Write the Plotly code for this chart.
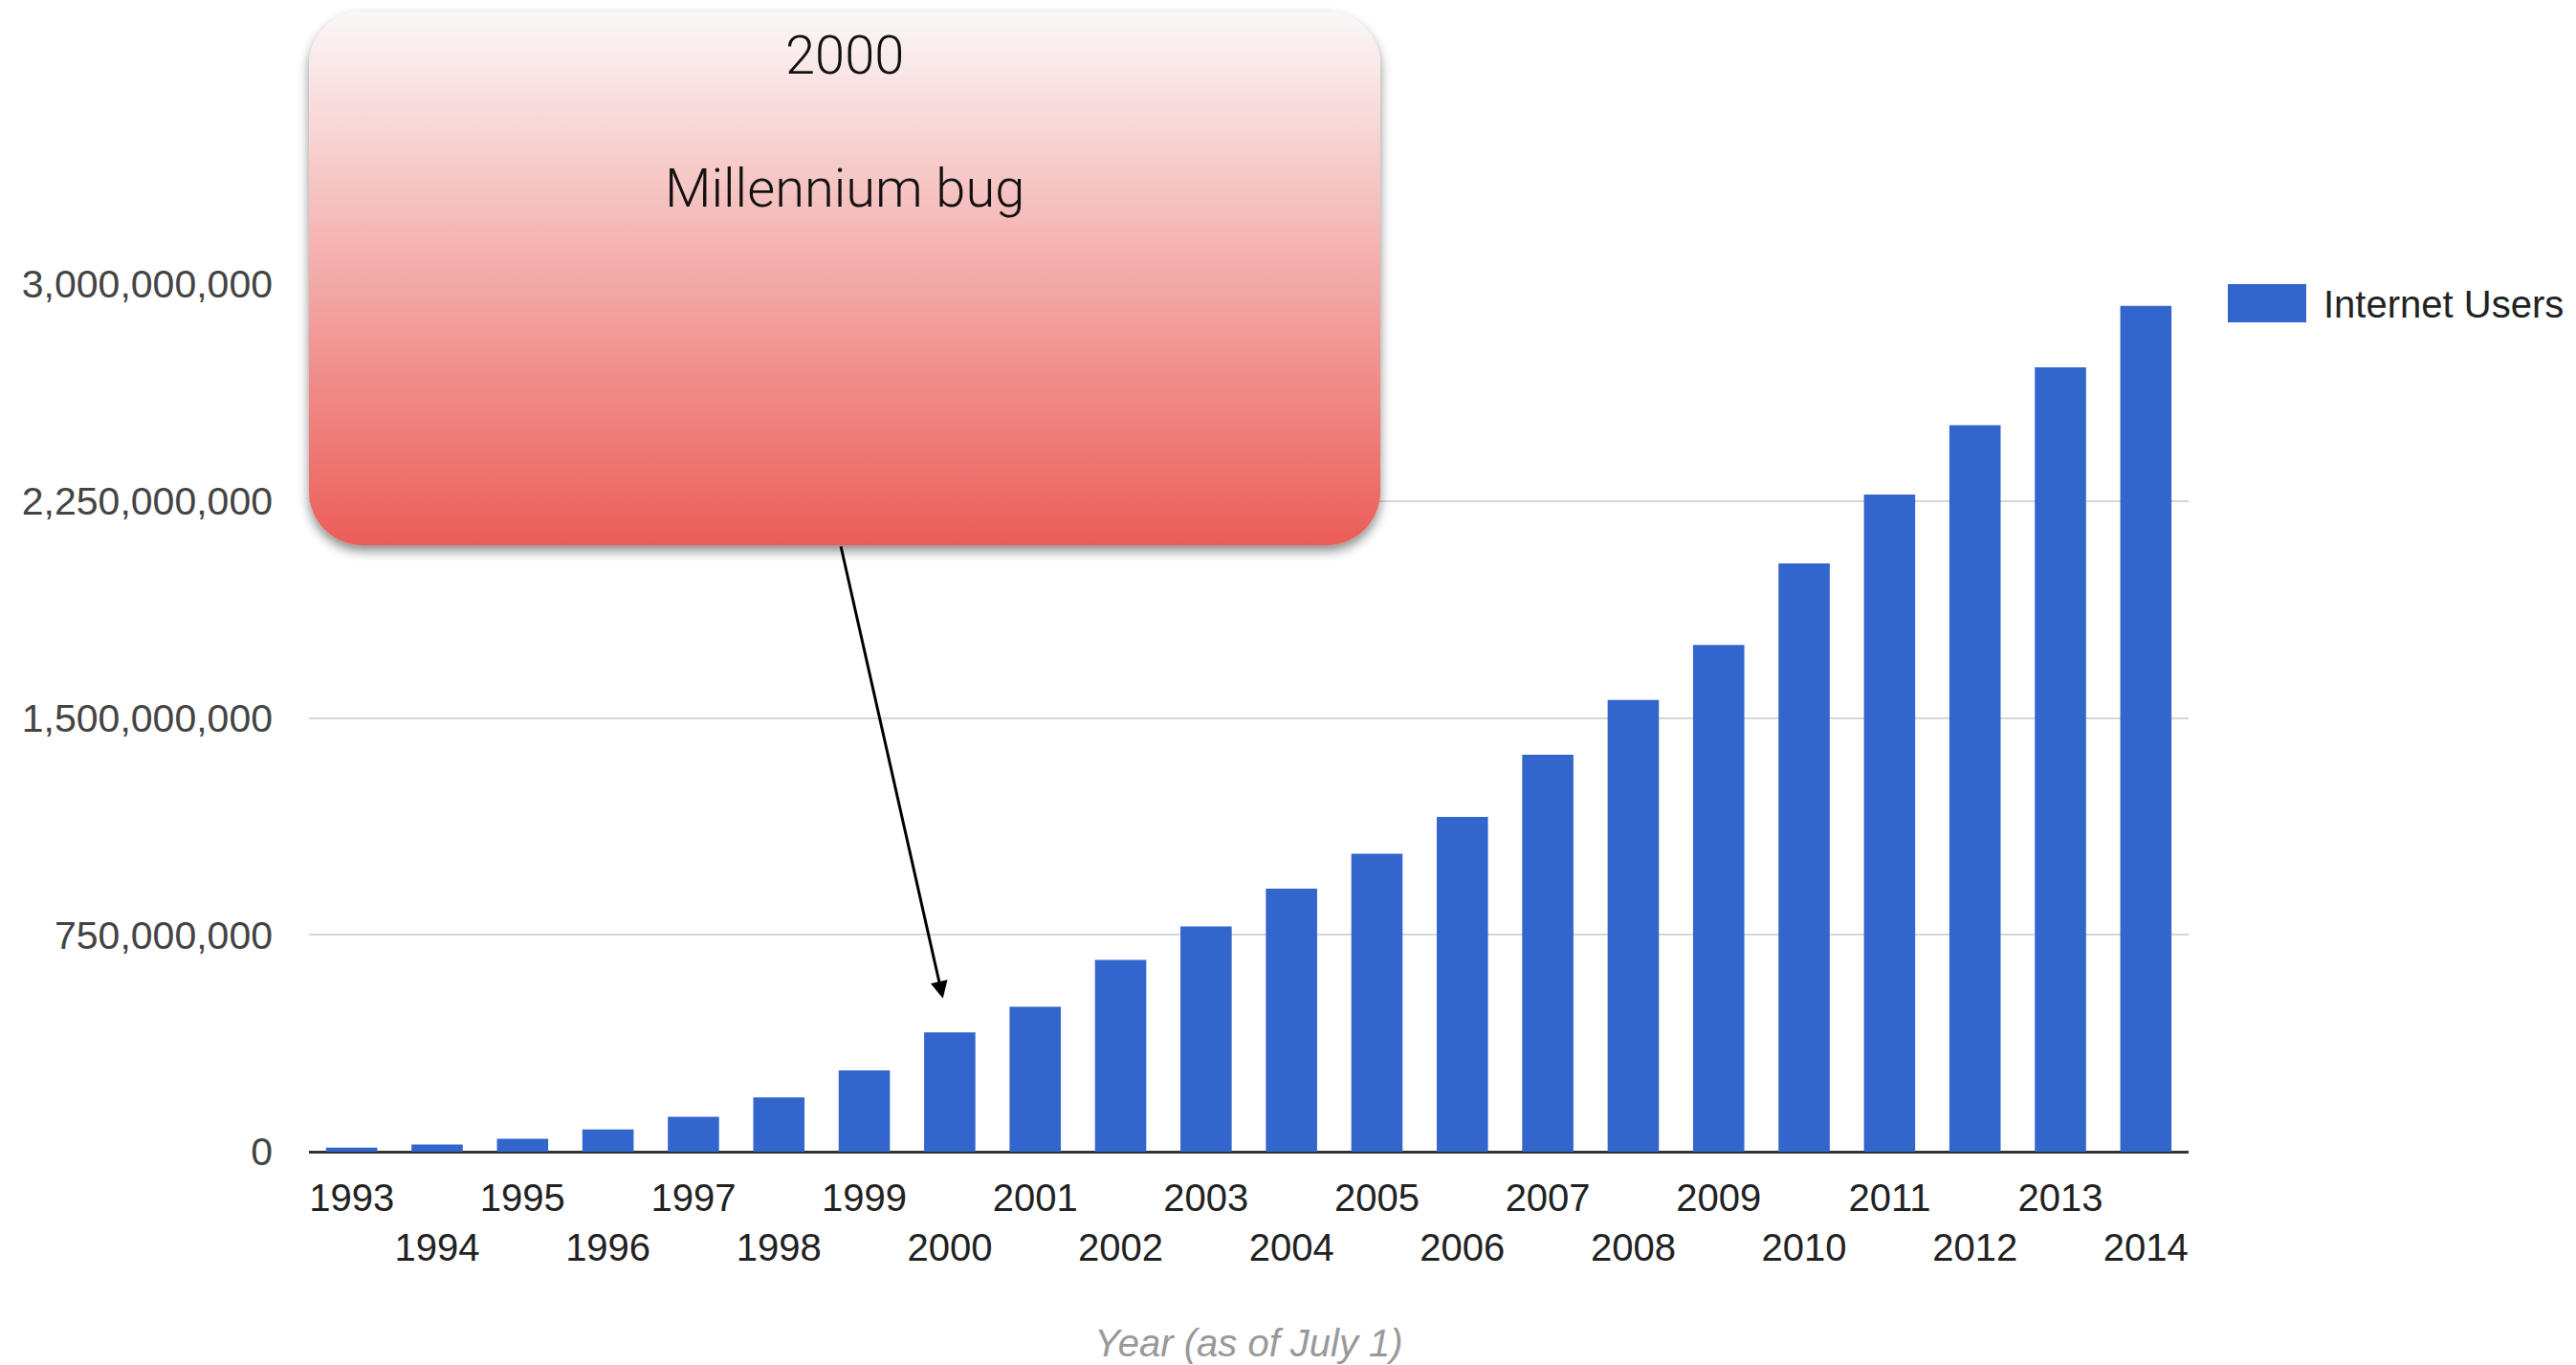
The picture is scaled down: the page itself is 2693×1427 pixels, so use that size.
import base64
import plotly.graph_objects as go

# ---------------- data ----------------
years = ["1993", "1994", "1995", "1996", "1997", "1998", "1999", "2000",
         "2001", "2002", "2003", "2004", "2005", "2006", "2007", "2008",
         "2009", "2010", "2011", "2012", "2013", "2014"]
internet_users = [14_000_000, 25_000_000, 45_000_000, 77_000_000, 121_000_000,
                  188_000_000, 281_000_000, 413_000_000, 501_000_000, 663_000_000,
                  779_000_000, 910_000_000, 1_030_000_000, 1_158_000_000,
                  1_373_000_000, 1_562_000_000, 1_752_000_000, 2_034_000_000,
                  2_272_000_000, 2_512_000_000, 2_712_000_000, 2_925_000_000]
y_tick_values = [0, 750_000_000, 1_500_000_000, 2_250_000_000, 3_000_000_000]
y_tick_labels = ["0", "750,000,000", "1,500,000,000", "2,250,000,000", "3,000,000,000"]
series_name = "Internet Users"
x_title = "Year (as of July 1)"
callout_year = "2000"
callout_text = "Millennium bug"
callout_value = 530_000_000

# ---------------- layout geometry (pixels) ----------------
W, H = 2693, 1427
L, R, T, B = 323, 405, 297, 223
PW, PH = W - L - R, H - T - B
BASE = H - B


def xp(px):
    return (px - L) / PW


def yp(py):
    return (BASE - py) / PH


# staggered tick labels: every second label on a second line
x_tick_text = [y if i % 2 == 0 else "<br>" + y for i, y in enumerate(years)]

fig = go.Figure()
fig.add_trace(go.Bar(
    x=years, y=internet_users, name=series_name,
    marker=dict(color="#3366cc", line=dict(width=0)),
    showlegend=False,
))

# callout box as svg (gradient + rounded corners + shadow)
bx0, by0, bx1, by1 = 323, 12, 1443, 570
pad = 24
bw, bh = bx1 - bx0, by1 - by0
sw, sh = bw + 2 * pad, bh + 2 * pad
svg = f'''<svg xmlns="http://www.w3.org/2000/svg" width="{sw}" height="{sh}" viewBox="0 0 {sw} {sh}">
<defs>
<linearGradient id="g" x1="0" y1="0" x2="0" y2="1">
<stop offset="0" stop-color="#fbf8f8"/>
<stop offset="0.5" stop-color="#f3aaa8"/>
<stop offset="1" stop-color="#eb5d58"/>
</linearGradient>
<filter id="s" x="-5%" y="-5%" width="110%" height="115%">
<feDropShadow dx="0" dy="6" stdDeviation="6" flood-color="#000000" flood-opacity="0.45"/>
</filter>
</defs>
<rect x="{pad}" y="{pad}" width="{bw}" height="{bh}" rx="56" ry="56" fill="url(#g)" filter="url(#s)"/>
</svg>'''
src = "data:image/svg+xml;base64," + base64.b64encode(svg.encode()).decode()
fig.add_layout_image(dict(
    source=src, xref="paper", yref="paper",
    x=xp(bx0 - pad), y=yp(by0 - pad), sizex=sw / PW, sizey=sh / PH,
    xanchor="left", yanchor="top", sizing="stretch", layer="above",
))

box_font = dict(family="Roboto, Liberation Sans, Arial", size=56, color="#111111", weight=300)
fig.add_annotation(text=callout_year, xref="paper", yref="paper", x=xp(883), y=yp(58),
                   showarrow=False, xanchor="center", yanchor="middle", font=box_font)
fig.add_annotation(text=callout_text, xref="paper", yref="paper", x=xp(883), y=yp(197),
                   showarrow=False, xanchor="center", yanchor="middle", font=box_font)

# arrow from callout to the 2000 bar (category index position)
fig.add_annotation(text="", x=years.index(callout_year) - 0.08, y=callout_value, xref="x", yref="y",
                   ax=-107, ay=-474, showarrow=True, arrowhead=2, arrowsize=1.2,
                   arrowwidth=3, arrowcolor="#000000", standoff=0)

# custom legend
fig.add_shape(type="rect", xref="paper", yref="paper",
              x0=xp(2329), x1=xp(2411), y0=yp(337), y1=yp(297),
              fillcolor="#3366cc", line=dict(width=0))
fig.add_annotation(text=series_name, xref="paper", yref="paper", x=xp(2427), y=yp(318),
                   showarrow=False, xanchor="left", yanchor="middle",
                   font=dict(family="Liberation Sans, Arial", size=40, color="#222222"))

fig.update_layout(
    width=W, height=H,
    margin=dict(l=L, r=R, t=T, b=B, pad=0),
    paper_bgcolor="white", plot_bgcolor="white",
    bargap=0.4,
    font=dict(family="Liberation Sans, Arial", size=40, color="#222222"),
    xaxis=dict(
        type="category", tickmode="array", tickvals=years, ticktext=x_tick_text,
        range=[-0.5, len(years) - 0.5], autorange=False, tickangle=0,
        showgrid=False, showline=False, ticks="", zeroline=False,
        tickfont=dict(size=40, color="#222222"), ticklabelstandoff=21,
        title=dict(text=x_title, font=dict(size=40, color="#999999", style="italic"), standoff=64),
        automargin=False,
    ),
    yaxis=dict(
        range=[0, 3_000_000_000], autorange=False, tickmode="array",
        tickvals=y_tick_values, ticktext=y_tick_labels,
        showgrid=True, gridcolor="#d6d6d6", gridwidth=2,
        zeroline=True, zerolinecolor="#333333", zerolinewidth=3,
        showline=False, ticks="", tickfont=dict(size=41, color="#444444"),
        ticklabelstandoff=37, automargin=False,
    ),
)

fig.write_html("out.html")
